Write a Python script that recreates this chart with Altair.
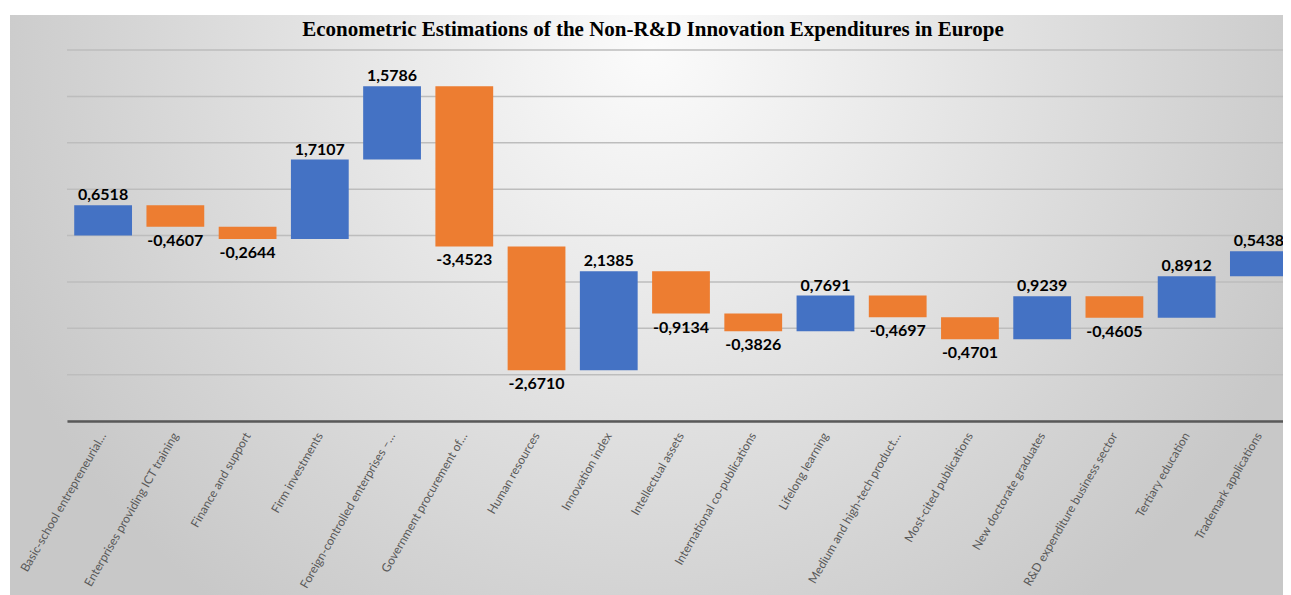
import altair as alt
import pandas as pd

categories = [
    "Basic-school entrepreneurial…",
    "Enterprises providing ICT training",
    "Finance and support",
    "Firm investments",
    "Foreign-controlled enterprises –…",
    "Government procurement of…",
    "Human resources",
    "Innovation index",
    "Intellectual assets",
    "International co-publications",
    "Lifelong learning",
    "Medium and high-tech product…",
    "Most-cited publications",
    "New doctorate graduates",
    "R&D expenditure business sector",
    "Tertiary education",
    "Trademark applications",
]
values = [0.6518, -0.4607, -0.2644, 1.7107, 1.5786, -3.4523, -2.6710, 2.1385,
          -0.9134, -0.3826, 0.7691, -0.4697, -0.4701, 0.9239, -0.4605, 0.8912, 0.5438]
grid_values = [-4, -3, -2, -1, 0, 1, 2, 3, 4]

df = pd.DataFrame({"cat": categories, "value": values})
df["end"] = df["value"].cumsum()
df["start"] = df["end"] - df["value"]
df["label"] = df["value"].map(lambda v: f"{v:.4f}".replace(".", ","))

W, H = 1216, 371

xscale = alt.Scale(range=[0, 1228], paddingInner=0.2, paddingOuter=0.1)
yscale = alt.Scale(domain=[-4, 4], nice=False, zero=False)

xenc = alt.X(
    "cat:N",
    sort=categories,
    scale=xscale,
    title=None,
    axis=alt.Axis(
        labelAngle=-60,
        labelFont="Lato",
        labelFontSize=12,
        labelColor="#595959",
        labelPadding=12,
        labelLimit=400,
        ticks=False,
        domainColor="#595959",
        domainWidth=2.5,
        zindex=1,
    ),
)

bg = alt.Chart(pd.DataFrame({"a": [0]})).mark_rect(
    fill=alt.Gradient(
        gradient="radial",
        x1=0.5, y1=0.3, r1=0,
        x2=0.5, y2=0.3, r2=0.55,
        stops=[
            alt.GradientStop(offset=0, color="#fbfbfb"),
            alt.GradientStop(offset=0.38, color="#e8e8e8"),
            alt.GradientStop(offset=0.78, color="#d3d3d3"),
            alt.GradientStop(offset=1, color="#c8c8c8"),
        ],
    )
).encode(
    x=alt.value(-57), x2=alt.value(1224), y=alt.value(-35), y2=alt.value(545)
)

grid = alt.Chart(pd.DataFrame({"v": grid_values})).mark_rule(
    color="#bdbdbd", strokeWidth=1.5
).encode(y=alt.Y("v:Q", scale=yscale, axis=None))

bars = alt.Chart(df).mark_bar(opacity=1).encode(
    x=xenc,
    y=alt.Y("start:Q", scale=yscale, axis=None),
    y2="end:Q",
    color=alt.condition("datum.value > 0", alt.value("#4472C4"), alt.value("#ED7D31")),
)

pos_labels = alt.Chart(df).transform_filter("datum.value > 0").mark_text(
    font="Lato", fontSize=16, fontWeight="bold", color="#000000",
    baseline="alphabetic", dy=-5
).encode(x=alt.X("cat:N", sort=categories, scale=xscale), y=alt.Y("end:Q", scale=yscale), text="label:N")

neg_labels = alt.Chart(df).transform_filter("datum.value < 0").mark_text(
    font="Lato", fontSize=16, fontWeight="bold", color="#000000",
    baseline="top", dy=6
).encode(x=alt.X("cat:N", sort=categories, scale=xscale), y=alt.Y("end:Q", scale=yscale), text="label:N")

chart = alt.layer(bg, grid, bars, pos_labels, neg_labels).properties(
    width=W,
    height=H,
    autosize=alt.AutoSizeParams(type="none"),
    padding={"left": 59, "right": 0, "top": 42, "bottom": 174},
    title=alt.TitleParams(
        "Econometric Estimations of the Non-R&D Innovation Expenditures in Europe",
        font="Liberation Serif",
        fontSize=21,
        fontWeight="bold",
        color="#000000",
        anchor="middle",
        frame="group",
        baseline="alphabetic",
        offset=-42,
        dx=-22,
    ),
).configure_view(stroke=None).configure(background="white")

chart.save("out.html", embed_options={"renderer": "svg", "actions": False})
